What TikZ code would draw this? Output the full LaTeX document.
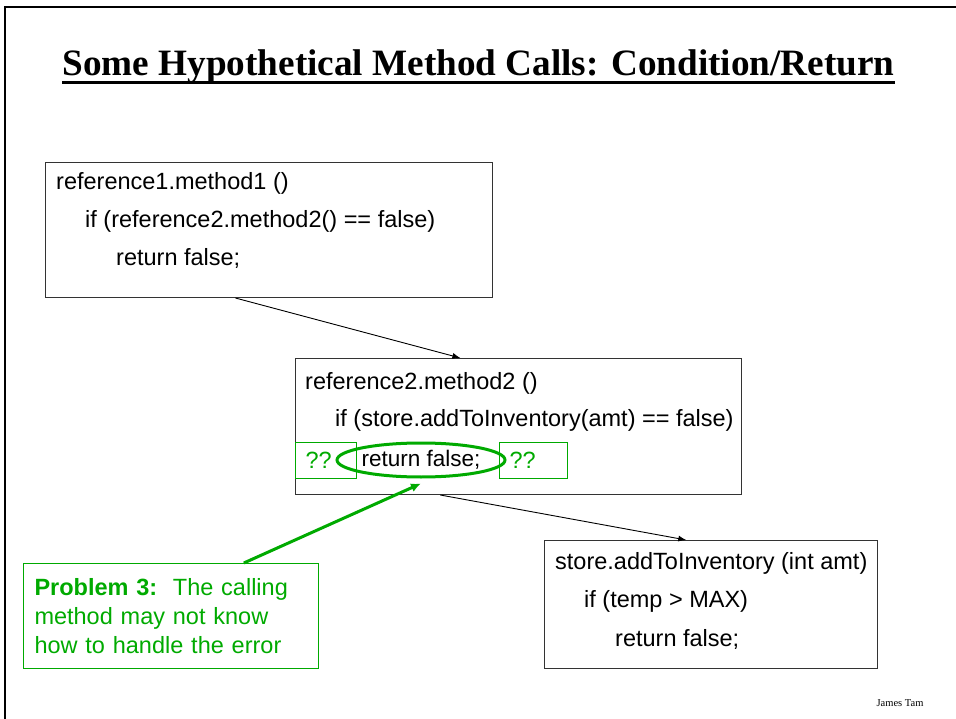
\documentclass[tikz,border=0pt]{standalone}
\usepackage{fontspec}
\setmainfont{Liberation Sans}
\newfontfamily\serifface{Liberation Serif}
\usetikzlibrary{shapes.geometric,arrows.meta,calc}
\definecolor{slidegreen}{RGB}{0,170,0}

\begin{document}
\begin{tikzpicture}[x=1pt,y=-1pt,
  codebox/.style={draw=black!80,line width=1pt,anchor=north west,inner sep=0pt},
  codeline/.style={anchor=west,inner sep=0pt,font=\fontsize{23.5}{28}\selectfont},
  qbox/.style={draw=slidegreen,line width=1pt,text=slidegreen,anchor=north west,
    text width=#1,inner xsep=10pt,inner ysep=0pt,minimum height=36pt,
    font=\fontsize{23.5}{28}\selectfont},
  callarrow/.style={-{Latex[length=8pt,width=6pt]},line width=0.9pt}]

  \useasboundingbox (0,0) rectangle (956,719);
  \draw[line width=2.5pt] (5,719) |- (956,7);

  \node[anchor=base,inner sep=0pt,font=\serifface\bfseries\fontsize{37.2}{42}\selectfont] (title) at (478.5,76)
    {Some Hypothetical Method Calls: Condition/Return};
  \draw[line width=3pt] ([yshift=-7pt]title.base west) -- ([yshift=-7pt]title.base east);

  \node[codebox,minimum width=447pt,minimum height=135pt] (m1) at (45,162) {};
  \node[codeline] (m1a) at (56,183) {reference1.method1 ()};
  \node[codeline] (m1b) at (85,221) {if (reference2.method2() == false)};
  \node[codeline] (m1c) at (116,258) {return false;};

  \node[codebox,minimum width=446pt,minimum height=136pt] (m2) at (295,358) {};
  \node[codeline] (m2a) at (305,383) {reference2.method2 ()};
  \node[codeline] (m2b) at (335,420) {if (store.addToInventory(amt) == false)};
  \node[qbox=41pt] (qleft) at (295,442) {??};
  \node[qbox=48pt] (qright) at (499,442) {??};
  \node[ellipse,draw=slidegreen,line width=3pt,minimum width=158pt,minimum height=34pt,inner sep=0pt,
    font=\fontsize{22.5}{28}\selectfont] (ret) at (421,460) {return false;};

  \node[codebox,minimum width=333pt,minimum height=128pt] (m3) at (544,540) {};
  \node[codeline] (m3a) at (555,563) {store.addToInventory (int amt)};
  \node[codeline] (m3b) at (584,601) {if (temp > MAX)};
  \node[codeline] (m3c) at (615,639) {return false;};

  \node[draw=slidegreen,line width=1pt,text=slidegreen,anchor=north west,align=left,
    text width=273pt,inner xsep=11pt,minimum height=105pt,
    font=\fontsize{23.5}{29}\selectfont] (problem) at (23,563)
    {\textbf{Problem 3:}\ \ The calling\\method may not know\\how to handle the error};

  \draw[callarrow] ($(m1.south west)!0.425!(m1.south east)$) -- ($(m2.north west)!0.37!(m2.north east)$);
  \draw[callarrow] ($(m2.south west)!0.325!(m2.south east)$) -- ($(m3.north west)!0.426!(m3.north east)$);
  \draw[slidegreen,line width=3pt,-{Latex[length=10pt,width=9pt]}]
    ($(problem.north west)!0.746!(problem.north east)$) -- ([yshift=-5pt]ret.south);

  \node[font=\serifface\fontsize{10.5}{12}\selectfont] (author) at (900,703) {James Tam};
\end{tikzpicture}
\end{document}
